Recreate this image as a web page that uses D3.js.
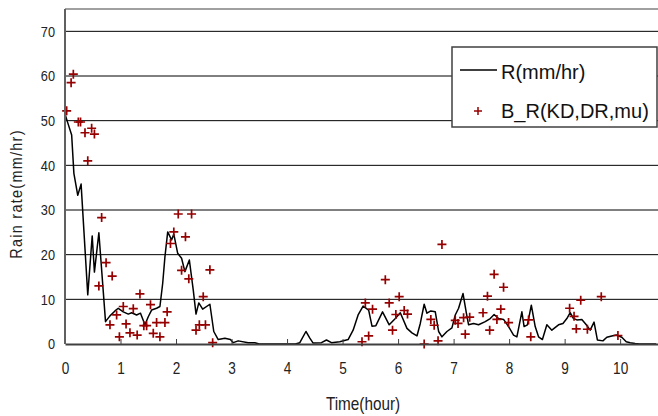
<!DOCTYPE html>
<html>
<head>
<meta charset="utf-8">
<script src="https://cdn.jsdelivr.net/npm/d3@7"></script>
<style>
  body { margin: 0; background: #fff; }
  svg { display: block; }
</style>
</head>
<body>
<div id="svg-container"></div>
<script>
// R(mm/hr) line
const rTime = [0, 0.05, 0.12, 0.16, 0.23, 0.29, 0.41, 0.49, 0.53, 0.61,
  0.73, 0.81, 0.90, 0.96, 1.05, 1.14, 1.20, 1.29, 1.36, 1.44,
  1.50, 1.56, 1.65, 1.71, 1.76, 1.80, 1.85, 1.92, 1.96, 2.03,
  2.10, 2.16, 2.24, 2.31, 2.36, 2.41, 2.48, 2.61, 2.68, 2.76,
  2.88, 2.98, 3.03, 3.12, 3.30, 3.42, 3.50, 4.15, 4.23, 4.34,
  4.41, 4.47, 4.62, 4.71, 4.80, 4.95, 5.10, 5.19, 5.28, 5.37,
  5.47, 5.53, 5.60, 5.72, 5.84, 5.95, 6.04, 6.16, 6.25, 6.34,
  6.40, 6.47, 6.52, 6.59, 6.67, 6.73, 6.79, 6.88, 6.97, 7.03,
  7.09, 7.17, 7.23, 7.27, 7.36, 7.45, 7.57, 7.66, 7.73, 7.81,
  7.90, 7.99, 8.08, 8.14, 8.23, 8.27, 8.33, 8.40, 8.47, 8.53,
  8.60, 8.68, 8.77, 8.89, 8.97, 9.04, 9.10, 9.16, 9.22, 9.31,
  9.39, 9.46, 9.53, 9.59, 9.69, 9.76, 9.85, 9.93, 10.03, 10.11,
  10.18, 10.27, 10.35, 10.65]
const rRate = [51.5, 49.5, 46.8, 38.2, 33.3, 35.8, 11.0, 24.2, 16.1, 24.9,
  5.0, 6.3, 7.4, 8.0, 7.2, 6.7, 7.0, 6.5, 6.9, 4.3,
  6.1, 7.6, 8.0, 8.4, 13.6, 19.5, 25.1, 23.3, 24.6, 20.3,
  19.2, 16.2, 18.8, 12.1, 6.7, 9.2, 7.8, 8.9, 2.8, 1.0,
  1.3, 1.0, 0.3, 0.7, 0.3, 0.3, 0, 0, 0.3, 2.8,
  1.3, 0.2, 0.3, 0.9, 0.3, 0.5, 1.0, 3.1, 6.5, 8.5,
  7.6, 4.0, 4.1, 7.2, 4.3, 5.7, 7.0, 3.5, 2.5, 1.8,
  4.6, 8.9, 6.9, 7.4, 7.2, 2.8, 1.6, 2.8, 3.6, 6.5,
  8.0, 11.3, 6.9, 4.3, 4.6, 4.3, 5.0, 5.7, 6.6, 5.7,
  5.5, 3.9, 2.0, 1.6, 7.2, 3.9, 4.3, 8.7, 3.9, 1.6,
  1.0, 4.3, 3.1, 4.3, 4.6, 5.7, 7.0, 5.7, 5.4, 5.5,
  4.3, 3.1, 4.9, 0.9, 0.7, 1.5, 1.8, 2.0, 1.5, 0.5,
  0.3, 0.1, 0, 0]

// B_R(KD,DR,mu) points
const brTime = [0.03, 0.11, 0.15, 0.24, 0.28, 0.36, 0.41, 0.48, 0.53, 0.61,
  0.66, 0.74, 0.81, 0.85, 0.93, 0.98, 1.05, 1.10, 1.17, 1.23,
  1.30, 1.35, 1.42, 1.47, 1.54, 1.59, 1.65, 1.71, 1.80, 1.84,
  1.90, 1.96, 2.04, 2.10, 2.17, 2.23, 2.28, 2.36, 2.42, 2.49,
  2.53, 2.61, 2.66, 5.35, 5.41, 5.47, 5.54, 5.77, 5.84, 5.90,
  5.96, 6.02, 6.11, 6.17, 6.47, 6.59, 6.65, 6.72, 6.79, 7.03,
  7.08, 7.18, 7.21, 7.29, 7.53, 7.61, 7.65, 7.73, 7.78, 7.85,
  7.90, 7.99, 8.35, 8.39, 9.09, 9.17, 9.21, 9.29, 9.41, 9.66,
  9.96]
const brRate = [52.2, 58.5, 60.4, 49.7, 49.7, 47.3, 41.0, 48.3, 47.0, 13.0,
  28.3, 18.2, 4.3, 15.2, 6.5, 1.6, 8.4, 4.5, 2.5, 7.9,
  2.0, 11.2, 4.1, 4.1, 8.8, 2.4, 4.8, 1.6, 4.8, 7.2,
  22.5, 25.1, 29.1, 16.5, 24.0, 14.6, 29.1, 3.1, 4.3, 10.6,
  4.3, 16.6, 0.3, 0.5, 9.2, 1.8, 7.8, 14.4, 9.2, 3.1,
  6.6, 10.6, 7.5, 6.7, 0, 5.5, 4.2, 0.7, 22.3, 5.3,
  4.6, 5.9, 2.2, 6.0, 7.0, 10.7, 3.1, 15.6, 5.5, 7.8,
  12.7, 4.8, 5.4, 1.6, 8.0, 6.2, 3.4, 9.8, 3.3, 10.6,
  1.9]

const xTicks = [0, 1, 2, 3, 4, 5, 6, 7, 8, 9, 10]
const yTicks = [0, 10, 20, 30, 40, 50, 60, 70]
const seriesNames = ['R(mm/hr)', 'B_R(KD,DR,mu)']

const width = 658
const height = 416
const axisFont = "'Liberation Sans', Arial, sans-serif"
// the axis text in the picture is condensed, squeeze it sideways
const squeeze = 0.85
const crossColor = '#960000'

const xScale = d3.scaleLinear().domain([0, 10.7]).range([65, 659])
const yScale = d3.scaleLinear().domain([0, 75]).range([344, 9])

const svg = d3
  .select('#svg-container')
  .append('svg')
  .attr('width', width)
  .attr('height', height)
  .attr('viewBox', `0 0 ${width} ${height}`)
  .style('background', '#fff')

// gridlines
svg
  .append('g')
  .attr('class', 'grid')
  .selectAll('line')
  .data(yTicks.filter(d => d > 0))
  .join('line')
  .attr('x1', xScale(0))
  .attr('x2', width)
  .attr('y1', d => yScale(d))
  .attr('y2', d => yScale(d))
  .attr('stroke', '#000')
  .attr('stroke-width', 1)

// top border
svg
  .append('line')
  .attr('x1', xScale(0))
  .attr('x2', width)
  .attr('y1', yScale(75))
  .attr('y2', yScale(75))
  .attr('stroke', '#808080')
  .attr('stroke-width', 1.5)

// R line
const lineData = rTime.map((t, i) => [t, rRate[i]])
svg
  .append('path')
  .datum(lineData)
  .attr('fill', 'none')
  .attr('stroke', '#000')
  .attr('stroke-width', 1.5)
  .attr('stroke-linejoin', 'round')
  .attr(
    'd',
    d3
      .line()
      .x(d => xScale(d[0]))
      .y(d => yScale(d[1])),
  )

// B_R crosses
const crossPath = s => `M${-s},0H${s}M0,${-s}V${s}`
svg
  .append('g')
  .attr('class', 'crosses')
  .selectAll('path')
  .data(brTime.map((t, i) => [t, brRate[i]]))
  .join('path')
  .attr('transform', d => `translate(${xScale(d[0])}, ${yScale(d[1])})`)
  .attr('d', crossPath(4.5))
  .attr('stroke', crossColor)
  .attr('stroke-width', 1.7)

// x-axis
svg
  .append('g')
  .attr('transform', `translate(0, ${yScale(0)})`)
  .call(
    d3
      .axisBottom(xScale)
      .tickValues(xTicks)
      .tickSizeInner(-5)
      .tickSizeOuter(0)
      .tickPadding(19),
  )
  .call(g => {
    g.select('.domain').attr('stroke', '#404040').attr('stroke-width', 2)
    g.selectAll('.tick line').attr('stroke', '#404040')
    g.selectAll('.tick text')
      .attr('fill', '#222')
      .attr('transform', `scale(${squeeze}, 1)`)
      .style('font-family', axisFont)
      .style('font-size', '16px')
  })

// y-axis
svg
  .append('g')
  .attr('transform', `translate(${xScale(0)}, 0)`)
  .call(d3.axisLeft(yScale).tickValues(yTicks).tickSize(0))
  .call(g => {
    g.select('.domain').remove()
    g.selectAll('.tick text')
      .attr('x', -10 / squeeze)
      .attr('transform', `scale(${squeeze}, 1)`)
      .attr('fill', '#222')
      .style('font-family', axisFont)
      .style('font-size', '15px')
  })

svg
  .append('line')
  .attr('x1', xScale(0))
  .attr('x2', xScale(0))
  .attr('y1', yScale(75))
  .attr('y2', yScale(0))
  .attr('stroke', '#606060')
  .attr('stroke-width', 2)

// axis labels
svg
  .append('text')
  .attr('transform', `translate(363, 405) scale(${squeeze}, 1)`)
  .attr('text-anchor', 'middle')
  .attr('dominant-baseline', 'middle')
  .style('font-family', axisFont)
  .style('font-size', '18px')
  .attr('fill', '#222')
  .text('Time(hour)')

svg
  .append('text')
  .attr('transform', `translate(18, 194) rotate(-90) scale(${squeeze}, 1)`)
  .attr('text-anchor', 'middle')
  .attr('dominant-baseline', 'middle')
  .style('font-family', axisFont)
  .style('font-size', '17px')
  .style('letter-spacing', '1.5px')
  .attr('fill', '#222')
  .text('Rain rate(mm/hr)')

// legend
const legend = svg.append('g').attr('class', 'legend')
legend
  .append('rect')
  .attr('x', 452)
  .attr('y', 47)
  .attr('width', 205)
  .attr('height', 80)
  .attr('fill', '#fff')
  .attr('stroke', '#404040')
  .attr('stroke-width', 1.5)

legend
  .append('line')
  .attr('x1', 460)
  .attr('x2', 497)
  .attr('y1', 70)
  .attr('y2', 70)
  .attr('stroke', '#000')
  .attr('stroke-width', 1.5)

legend
  .append('path')
  .attr('transform', 'translate(478, 111)')
  .attr('d', crossPath(4))
  .attr('stroke', crossColor)
  .attr('stroke-width', 1.5)

legend
  .selectAll('text')
  .data(seriesNames)
  .join('text')
  .attr('x', 501)
  .attr('y', (d, i) => 79 + i * 39)
  .style('font-family', axisFont)
  .style('font-size', '20px')
  .attr('fill', '#111')
  .text(d => d)
</script>
</body>
</html>
